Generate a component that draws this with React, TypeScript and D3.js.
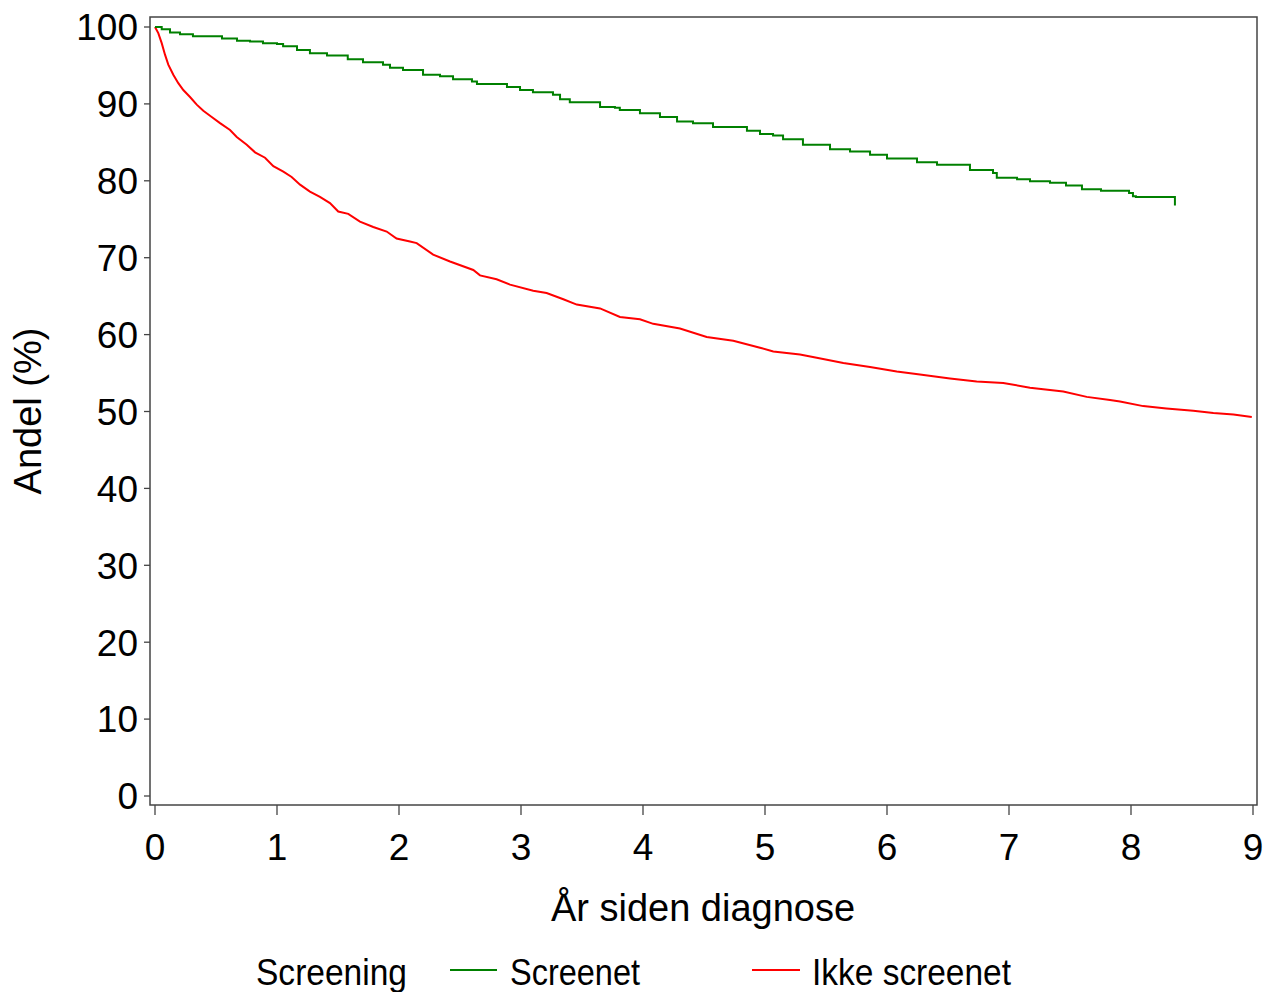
import React from "react";
import * as d3 from "d3";

const width = 1264,
    height = 992;

// Kaplan-Meier style curves (years, percent)
const screenetTimes = [0, 0.055, 0.123, 0.205, 0.311, 0.549, 0.672, 0.779, 0.885, 1.0, 1.05, 1.164, 1.27, 1.41, 1.58, 1.705, 1.869, 1.926, 2.033, 2.197, 2.336, 2.443, 2.598, 2.639, 2.885, 2.992, 3.098, 3.262, 3.32, 3.4, 3.648, 3.77, 3.81, 3.975, 4.139, 4.279, 4.41, 4.574, 4.852, 4.959, 5.066, 5.148, 5.311, 5.533, 5.697, 5.861, 6.0, 6.246, 6.41, 6.68, 6.869, 6.9, 7.066, 7.172, 7.336, 7.467, 7.598, 7.754, 7.984, 8.016, 8.04, 8.36, 8.36]
const screenetValues = [100, 99.7, 99.3, 99.05, 98.8, 98.5, 98.2, 98.1, 97.9, 97.8, 97.5, 97.0, 96.6, 96.3, 95.8, 95.4, 95.1, 94.7, 94.4, 93.8, 93.6, 93.2, 92.9, 92.6, 92.2, 91.8, 91.5, 91.2, 90.6, 90.2, 89.6, 89.5, 89.2, 88.8, 88.3, 87.7, 87.5, 87.0, 86.5, 86.1, 85.9, 85.4, 84.7, 84.1, 83.8, 83.4, 82.9, 82.4, 82.1, 81.4, 81.0, 80.4, 80.2, 79.95, 79.75, 79.4, 78.9, 78.7, 78.4, 78.0, 77.9, 77.9, 76.8]

const ikkeTimes = [0, 0.027, 0.055, 0.082, 0.109, 0.15, 0.191, 0.232, 0.287, 0.342, 0.396, 0.465, 0.533, 0.615, 0.67, 0.752, 0.82, 0.902, 0.97, 1.052, 1.12, 1.189, 1.27, 1.352, 1.434, 1.502, 1.584, 1.68, 1.789, 1.899, 1.98, 2.09, 2.145, 2.28, 2.418, 2.609, 2.664, 2.8, 2.91, 3.1, 3.21, 3.347, 3.457, 3.648, 3.811, 3.975, 4.084, 4.303, 4.522, 4.74, 4.959, 5.068, 5.287, 5.424, 5.642, 5.861, 6.08, 6.27, 6.516, 6.735, 6.953, 7.172, 7.445, 7.637, 7.828, 7.91, 8.1, 8.29, 8.51, 8.675, 8.84, 8.99]
const ikkeValues = [100, 99.2, 97.9, 96.4, 95.1, 93.8, 92.7, 91.8, 90.9, 89.9, 89.1, 88.3, 87.5, 86.6, 85.7, 84.7, 83.7, 83.0, 81.9, 81.2, 80.5, 79.5, 78.6, 77.9, 77.1, 76.0, 75.7, 74.7, 74.0, 73.4, 72.5, 72.1, 71.9, 70.4, 69.5, 68.4, 67.7, 67.2, 66.5, 65.7, 65.4, 64.6, 63.9, 63.4, 62.3, 62.0, 61.4, 60.8, 59.7, 59.2, 58.3, 57.8, 57.4, 57.0, 56.3, 55.8, 55.2, 54.8, 54.3, 53.9, 53.7, 53.1, 52.6, 51.9, 51.5, 51.3, 50.7, 50.4, 50.1, 49.8, 49.6, 49.3]

const xTicks = [0, 1, 2, 3, 4, 5, 6, 7, 8, 9]
const yTicks = [0, 10, 20, 30, 40, 50, 60, 70, 80, 90, 100]

const legendTitle = "Screening"
const seriesNames = ["Screenet", "Ikke screenet"]
const seriesColors = ["#008000", "#ff0000"]

const font = "'Liberation Sans', Arial, sans-serif"

const App = () => {
    const frame = { left: 150, right: 1257, top: 17, bottom: 805 }

    const getX = d3.scaleLinear().domain([0, 9]).range([155, 1253])
    const getY = d3.scaleLinear().domain([0, 100]).range([796, 27])

    const stepLine = d3
        .line<[number, number]>()
        .x((d) => getX(d[0]))
        .y((d) => getY(d[1]))
        .curve(d3.curveStepAfter)
    const plainLine = d3
        .line<[number, number]>()
        .x((d) => getX(d[0]))
        .y((d) => getY(d[1]))

    const screenetPath = stepLine(screenetTimes.map((t, i) => [t, screenetValues[i]]))
    const ikkePath = plainLine(ikkeTimes.map((t, i) => [t, ikkeValues[i]]))

    return (
        <svg
            width={width}
            height={height}
            style={{ position: "absolute", left: 0, top: 0, background: "#fff" }}
            fontFamily={font}
        >
            <rect x={0} y={0} width={width} height={height} fill="#fff" />

            {/* y axis */}
            {yTicks.map((t) => (
                <g key={"y" + t}>
                    <line x1={144} x2={frame.left} y1={getY(t)} y2={getY(t)} stroke="#444" strokeWidth={1.3} />
                    <text x={138} y={getY(t)} dy="0.36em" textAnchor="end" fontSize={37} fill="#000">
                        {t}
                    </text>
                </g>
            ))}

            {/* x axis */}
            {xTicks.map((t) => (
                <g key={"x" + t}>
                    <line x1={getX(t)} x2={getX(t)} y1={frame.bottom} y2={815} stroke="#444" strokeWidth={1.3} />
                    <text x={getX(t)} y={860} textAnchor="middle" fontSize={37} fill="#000">
                        {t}
                    </text>
                </g>
            ))}

            <path strokeWidth={2} fill="none" stroke={seriesColors[1]} d={ikkePath || ""} />
            <path strokeWidth={2} fill="none" stroke={seriesColors[0]} d={screenetPath || ""} />

            <rect
                x={frame.left}
                y={frame.top}
                width={frame.right - frame.left}
                height={frame.bottom - frame.top}
                fill="none"
                stroke="#444"
                strokeWidth={1.5}
            />

            <text x={703} y={921} textAnchor="middle" fontSize={38} fill="#000">
                År siden diagnose
            </text>
            <text
                transform={"rotate(-90)"}
                x={-411}
                y={41}
                textAnchor="middle"
                fontSize={38}
                fill="#000"
            >
                Andel (%)
            </text>

            {/* legend */}
            <text x={256} y={985} fontSize={37} textLength={151} lengthAdjust="spacingAndGlyphs" fill="#000">
                {legendTitle}
            </text>
            <line x1={450} x2={497} y1={970} y2={970} stroke={seriesColors[0]} strokeWidth={2} />
            <text x={510} y={985} fontSize={37} textLength={130} lengthAdjust="spacingAndGlyphs" fill="#000">
                {seriesNames[0]}
            </text>
            <line x1={752} x2={800} y1={970} y2={970} stroke={seriesColors[1]} strokeWidth={2} />
            <text x={812} y={985} fontSize={37} textLength={199} lengthAdjust="spacingAndGlyphs" fill="#000">
                {seriesNames[1]}
            </text>
        </svg>
    )
}

export default App
